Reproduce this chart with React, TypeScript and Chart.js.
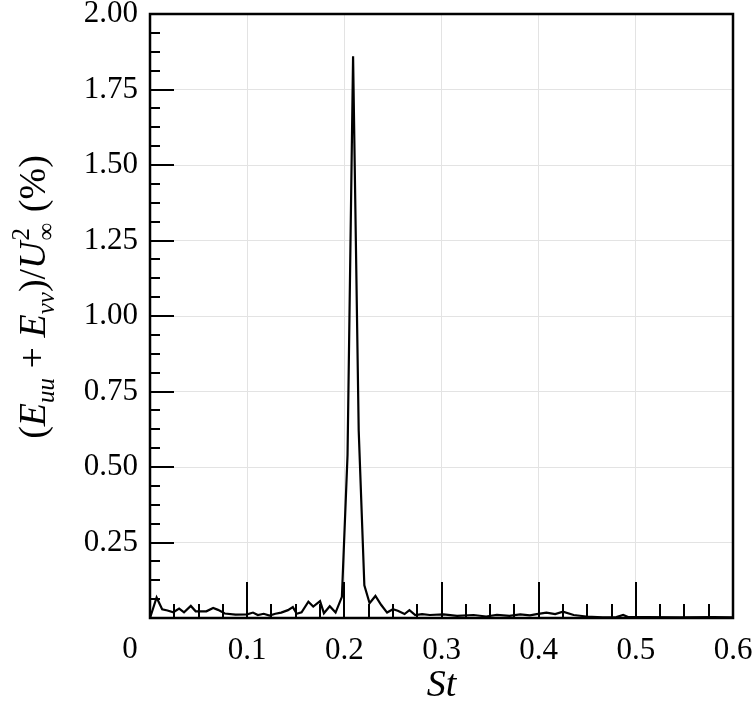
import React, { useEffect, useRef } from "react";
import { Chart, registerables } from "chart.js";

Chart.register(...registerables);

// Strouhal number (x) and normalised energy (%)
const stValues: number[] = [
  0, 0.0068, 0.0125, 0.018, 0.024, 0.030, 0.035, 0.042, 0.047, 0.053, 0.058,
  0.065, 0.070, 0.077, 0.088, 0.100, 0.106, 0.111, 0.117, 0.123, 0.129, 0.135,
  0.142, 0.147, 0.151, 0.156, 0.163, 0.168, 0.175, 0.179, 0.185, 0.191, 0.1975,
  0.2033, 0.209, 0.2148, 0.2206, 0.226, 0.232, 0.238, 0.244, 0.250, 0.255,
  0.262, 0.267, 0.273, 0.280, 0.288, 0.302, 0.316, 0.333, 0.346, 0.357, 0.370,
  0.381, 0.391, 0.398, 0.408, 0.417, 0.425, 0.436, 0.449, 0.466, 0.480, 0.487,
  0.492, 0.511, 0.545, 0.580, 0.600,
];
const energyValues: number[] = [
  0.0, 0.068, 0.029, 0.025, 0.019, 0.031, 0.019, 0.040, 0.022, 0.022, 0.022,
  0.033, 0.027, 0.015, 0.011, 0.012, 0.018, 0.010, 0.014, 0.008, 0.014, 0.018,
  0.026, 0.036, 0.014, 0.019, 0.054, 0.038, 0.056, 0.016, 0.039, 0.018, 0.070,
  0.54, 1.86, 0.62, 0.108, 0.049, 0.073, 0.043, 0.018, 0.029, 0.024,
  0.013, 0.026, 0.010, 0.013, 0.010, 0.012, 0.007, 0.010, 0.005, 0.010, 0.007,
  0.012, 0.009, 0.013, 0.018, 0.013, 0.021, 0.010, 0.005, 0.002, 0.003, 0.010,
  0.003, 0.003, 0.002, 0.003, 0.002,
];
const xTickLabels: string[] = ["0", "0.1", "0.2", "0.3", "0.4", "0.5", "0.6"];
const yTickLabels: string[] = ["0", "0.25", "0.50", "0.75", "1.00", "1.25", "1.50", "1.75", "2.00"];
const xAxisTitle = "St";

const SERIF = "'Liberation Serif', 'Times New Roman', serif";

const framePlugin = {
  id: "framePlugin",
  afterDraw(chart: any) {
    const ctx: CanvasRenderingContext2D = chart.ctx;
    const { left, right, top, bottom } = chart.chartArea;
    const xs = chart.scales.x;
    const ys = chart.scales.y;
    ctx.save();
    ctx.strokeStyle = "#000";
    // inward ticks on the bottom axis
    ctx.lineWidth = 2;
    for (let i = 1; i < 24; i++) {
      const v = i * 0.025;
      const px = Math.round(xs.getPixelForValue(v));
      const len = i % 4 === 0 ? 36 : 14;
      ctx.beginPath();
      ctx.moveTo(px, bottom);
      ctx.lineTo(px, bottom - len);
      ctx.stroke();
    }
    // inward ticks on the left axis
    for (let i = 1; i < 32; i++) {
      const v = i * 0.0625;
      const py = Math.round(ys.getPixelForValue(v));
      const len = i % 4 === 0 ? 24 : 10;
      ctx.beginPath();
      ctx.moveTo(left, py);
      ctx.lineTo(left + len, py);
      ctx.stroke();
    }
    // frame
    ctx.lineWidth = 2.5;
    ctx.strokeRect(left, top, right - left, bottom - top);

    // "0" label at the origin (offset to the left like the original)
    ctx.fillStyle = "#000";
    ctx.font = `31px ${SERIF}`;
    ctx.textAlign = "center";
    ctx.textBaseline = "middle";
    ctx.fillText(xTickLabels[0], left - 20, bottom + 32);

    // y axis title with sub/superscripts
    const big = 38;
    const small = 25;
    type Seg = { t: string; f: string; dy: number } | { sup: string; sub: string };
    const segs: Seg[] = [
      { t: "(", f: `${big}px ${SERIF}`, dy: 0 },
      { t: "E", f: `italic ${big}px ${SERIF}`, dy: 0 },
      { t: "uu", f: `italic ${small}px ${SERIF}`, dy: 9 },
      { t: " + ", f: `${big}px ${SERIF}`, dy: 0 },
      { t: "E", f: `italic ${big}px ${SERIF}`, dy: 0 },
      { t: "vv", f: `italic ${small}px ${SERIF}`, dy: 9 },
      { t: ")/", f: `${big}px ${SERIF}`, dy: 0 },
      { t: "U", f: `italic ${big}px ${SERIF}`, dy: 0 },
      { sup: "2", sub: "∞" },
      { t: " (%)", f: `${big}px ${SERIF}`, dy: 0 },
    ];
    const widths: number[] = segs.map((s: any) => {
      if (s.sup !== undefined) {
        ctx.font = `${small}px ${SERIF}`;
        return Math.max(ctx.measureText(s.sup).width, ctx.measureText(s.sub).width) + 2;
      }
      ctx.font = s.f;
      return ctx.measureText(s.t).width;
    });
    const total = widths.reduce((a, b) => a + b, 0);
    ctx.translate(45, 297);
    ctx.rotate(-Math.PI / 2);
    ctx.textAlign = "left";
    ctx.textBaseline = "alphabetic";
    let x = -total / 2;
    segs.forEach((s: any, i) => {
      if (s.sup !== undefined) {
        ctx.font = `${small}px ${SERIF}`;
        ctx.fillText(s.sup, x + 1, -16);
        ctx.fillText(s.sub, x + 1, 9);
      } else {
        ctx.font = s.f;
        ctx.fillText(s.t, x, s.dy);
      }
      x += widths[i];
    });
    ctx.restore();
  },
};

export default function App() {
  const canvasRef = useRef<HTMLCanvasElement | null>(null);

  useEffect(() => {
    document.body.style.margin = "0";
    const canvas = canvasRef.current;
    if (!canvas) return;
    const points = stValues.map((s, i) => ({ x: s, y: energyValues[i] }));
    const chart = new Chart(canvas, {
      type: "line",
      data: {
        datasets: [
          {
            data: points,
            borderColor: "#000",
            borderWidth: 2.2,
            pointRadius: 0,
            tension: 0,
            fill: false,
          },
        ],
      },
      options: {
        animation: false,
        responsive: false,
        maintainAspectRatio: false,
        layout: { padding: { top: 14, right: 21, left: 0, bottom: 0 } },
        plugins: { legend: { display: false }, tooltip: { enabled: false }, title: { display: false } },
        scales: {
          x: {
            type: "linear",
            min: 0,
            max: 0.6,
            border: { display: false },
            grid: { color: "#e3e3e3", lineWidth: 1, drawTicks: false },
            ticks: {
              stepSize: 0.1,
              padding: 14,
              color: "#000",
              font: { family: SERIF, size: 31 },
              maxRotation: 0,
              autoSkip: false,
              callback: (v: any) => {
                const idx = Math.round(Number(v) * 10);
                return idx === 0 ? "" : xTickLabels[idx];
              },
            },
            title: {
              display: true,
              text: xAxisTitle,
              color: "#000",
              font: { family: SERIF, size: 38, style: "italic" },
              padding: { top: 0, bottom: 0 },
            },
            afterFit: (scale: any) => {
              scale.height = 91;
              scale.paddingLeft = 0;
              scale.paddingRight = 0;
            },
          },
          y: {
            type: "linear",
            min: 0,
            max: 2,
            border: { display: false },
            grid: { color: "#e3e3e3", lineWidth: 1, drawTicks: false },
            ticks: {
              stepSize: 0.25,
              padding: 12,
              color: "#000",
              font: { family: SERIF, size: 31 },
              autoSkip: false,
              callback: (v: any) => {
                const idx = Math.round(Number(v) * 4);
                return idx === 0 ? "" : yTickLabels[idx];
              },
            },
            afterFit: (scale: any) => {
              scale.width = 150;
              scale.paddingTop = 0;
              scale.paddingBottom = 0;
            },
          },
        },
      },
      plugins: [framePlugin],
    });
    return () => chart.destroy();
  }, []);

  return (
    <div style={{ width: 754, height: 709 }}>
      <canvas ref={canvasRef} width={754} height={709} style={{ display: "block" }} />
    </div>
  );
}
